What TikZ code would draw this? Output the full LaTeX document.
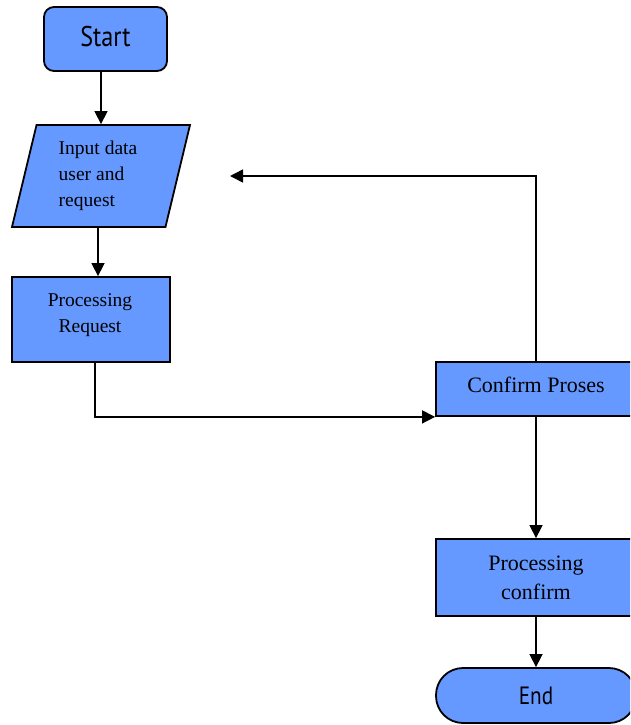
\documentclass[tikz,border=0pt]{standalone}
\usepackage{fontspec}
\setmainfont{Liberation Serif}
\newfontfamily\labelsans[FakeStretch=0.85]{PT Sans}
\usetikzlibrary{shapes.geometric,arrows.meta}
\definecolor{boxblue}{RGB}{102,153,255}
\begin{document}
\begin{tikzpicture}[x=1pt,y=-1pt,
  box/.style={draw=black, line width=1.8pt, fill=boxblue, inner sep=0pt},
  arr/.style={line width=1.5pt, -{Triangle[length=13pt,width=13pt]}},
  serif19/.style={font=\fontsize{19.5}{26}\selectfont},
  serif22/.style={font=\fontsize{22}{29}\selectfont},
  sansbig/.style={font=\labelsans\fontsize{28.5}{32}\selectfont},
  sans25/.style={font=\labelsans\fontsize{25}{30}\selectfont}]
\useasboundingbox (0,0) rectangle (630,725);
\clip (0,0) rectangle (630,725);

% left column
\node[box, rectangle, rounded corners=10pt, minimum width=123pt, minimum height=64pt,
      label={[sansbig, yshift=2pt]center:Start}] (st) at (105.5,39) {};
\node[box, trapezium, trapezium left angle=70.6, trapezium right angle=109.4,
      trapezium stretches body, minimum width=178pt, minimum height=102pt,
      align=left, serif19] (in) at (101,176) {Input data\hspace*{6pt}\\user and\\request};
\node[box, rectangle, minimum width=158pt, minimum height=85pt,
      label={[serif19, align=center, yshift=4.5pt, xshift=-1pt]center:Processing\\Request}] (pr) at (91,319.5) {};

% right column
\node[box, rectangle, minimum width=200pt, minimum height=54pt,
      label={[serif22, yshift=4pt]center:Confirm Proses}] (cp) at (536,389) {};
\node[box, rectangle, minimum width=200pt, minimum height=77pt,
      align=center, serif22] (pc) at (536,577.5) {Processing\\confirm};
\node[box, rectangle, rounded corners=27pt, minimum width=200pt, minimum height=55pt,
      sans25] (en) at (536,695.5) {End};

\coordinate (fb) at (230,176);

% connectors
\draw[arr] ([xshift=-4.5pt]st.south) -- ([xshift=-4.5pt]st.south |- in.north);
\draw[arr] ([xshift=-3pt]in.south) -- ([xshift=-3pt]in.south |- pr.north);
\draw[arr] ([xshift=4pt]pr.south) |- (cp.south west);
\draw[arr] (cp.north) |- (fb);
\draw[arr] (cp.south) -- (pc.north);
\draw[arr] (pc.south) -- (en.north);
\end{tikzpicture}
\end{document}
